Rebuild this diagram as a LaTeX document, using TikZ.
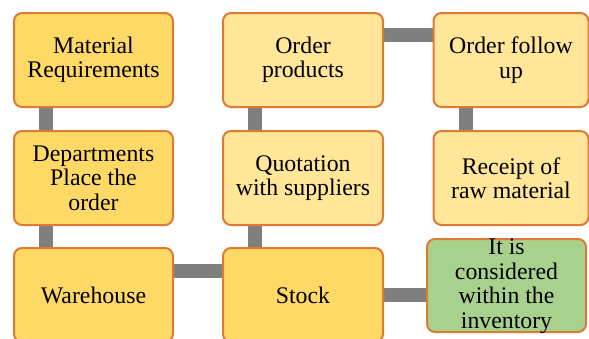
\documentclass[tikz,border=0pt]{standalone}
\usepackage{fontspec}
\setmainfont{LiberationSerif}[Extension=.ttf, UprightFont=*-Regular]
\usetikzlibrary{backgrounds}
\definecolor{gold}{HTML}{FFD966}
\definecolor{lightgold}{HTML}{FFE699}
\definecolor{leaf}{HTML}{A9D18E}
\definecolor{edge}{RGB}{222,122,52}
\definecolor{link}{HTML}{7F7F7F}
\tikzset{
  box/.style={draw=edge, line width=2pt, rounded corners=8pt, inner sep=2pt,
    minimum width=159pt, minimum height=94pt, align=center,
    font=\fontsize{23.8}{24.5}\selectfont},
  darkbox/.style={box, fill=gold},
  lightbox/.style={box, fill=lightgold},
  txt/.style={align=center, inner sep=0pt, font=\fontsize{23.8}{24.5}\selectfont},
  conn/.style={draw=link, line width=14pt}
}
\begin{document}
\begin{tikzpicture}[x=1pt,y=-1pt]
\useasboundingbox (0,0) rectangle (589,338);
\node[darkbox] (A) at (93.5,60) {Material\\Requirements};
\node[darkbox] (B) at (93.5,178) {Departments\\Place the\\order};
\node[darkbox] (C) at (93.5,295) {Warehouse};
\node[lightbox, minimum width=160pt] (D) at (303,60) {Order\\products};
\node[lightbox, minimum width=160pt] (E) at (303,178) {Quotation\\with suppliers};
\node[darkbox, minimum width=160pt] (F) at (303,295) {Stock};
\node[lightbox, minimum width=155pt] (G) at (511,60) {Order follow\\up};
\node[lightbox, minimum width=155pt] (H) at (511,178) {Receipt of\\raw material};
\node[box, fill=leaf, minimum height=93pt] (I) at (506.5,285.5) {};
\node[txt] (It) at (506.5,286) {It is\\considered\\within the\\inventory};
\begin{scope}[on background layer]
\draw[conn] ([xshift=33pt]A.south west) -- ([xshift=33pt]B.north west);
\draw[conn] ([xshift=33pt]B.south west) -- ([xshift=33pt]C.north west);
\draw[conn] ([xshift=33pt]D.south west) -- ([xshift=33pt]E.north west);
\draw[conn] ([xshift=33pt]E.south west) -- ([xshift=33pt]F.north west);
\draw[conn] ([xshift=33pt]G.south west) -- ([xshift=33pt]H.north west);
\draw[conn] ([yshift=-23pt]D.north east) -- ([yshift=-23pt]G.north west);
\draw[conn] ([yshift=-24pt]C.north east) -- ([yshift=-24pt]F.north west);
\draw[conn] ([yshift=-48pt]F.north east) -- ([yshift=-48pt]F.north east -| I.west);
\end{scope}
\end{tikzpicture}
\end{document}
